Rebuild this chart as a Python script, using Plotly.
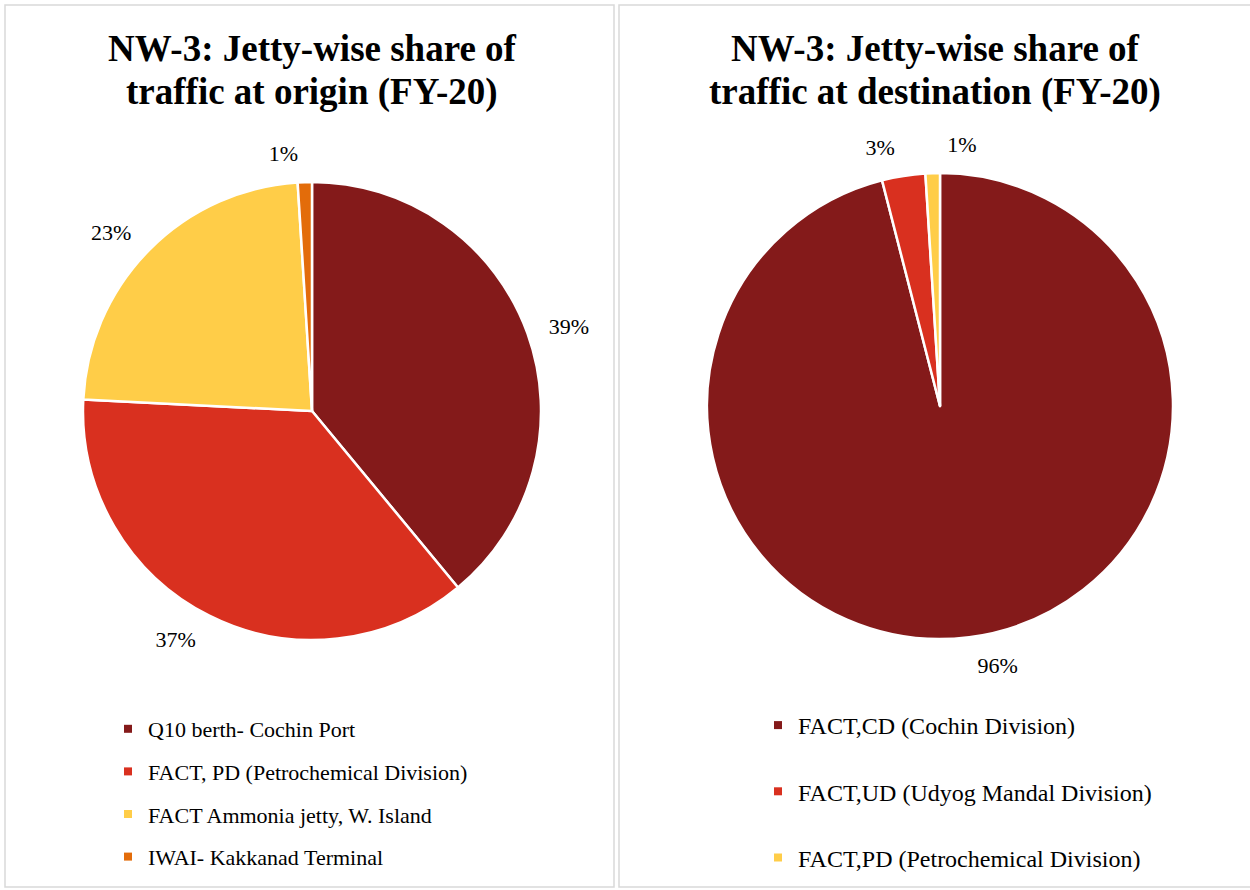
import plotly.graph_objects as go

W, H = 1250, 890

origin_labels = ["Q10 berth- Cochin Port", "FACT, PD (Petrochemical Division)",
                 "FACT Ammonia jetty, W. Island", "IWAI- Kakkanad Terminal"]
origin_values = [39.0, 36.8, 23.2, 1.0]
origin_colors = ["#841A1A", "#D9301F", "#FFCD48", "#E36C0A"]

dest_labels = ["FACT,CD (Cochin Division)", "FACT,UD (Udyog Mandal Division)",
               "FACT,PD (Petrochemical Division)"]
dest_values = [96.0, 3.0, 1.0]
dest_colors = ["#841A1A", "#D9301F", "#FFCD48"]

title_left = ["NW-3: Jetty-wise share of", "traffic at origin (FY-20)"]
title_right = ["NW-3: Jetty-wise share of", "traffic at destination (FY-20)"]

FONT = "Liberation Serif"
CLEAR = "rgba(0,0,0,0)"
LABEL_GAP = 16  # data labels sit a little outside the pie, as in the original


def px_x(v):
    return v / W


def px_y(v):
    return 1 - v / H


def dom(x0, x1, y0, y1, pad=0):
    return dict(x=[px_x(x0 - pad), px_x(x1 + pad)], y=[px_y(y1 + pad), px_y(y0 - pad)])


LEFT_BOX = (83, 541, 182, 640)
RIGHT_BOX = (707, 1173, 173, 639)

fig = go.Figure()

base = dict(sort=False, direction="clockwise", showlegend=False)
label_font = dict(family=FONT, size=22, color="#000000")
edge = dict(color="#FFFFFF", width=2.5)

# visible pies
fig.add_trace(go.Pie(labels=origin_labels, values=origin_values, rotation=0,
                     marker=dict(colors=origin_colors, line=edge),
                     textinfo="none", hoverinfo="label+percent",
                     domain=dom(*LEFT_BOX), **base))
fig.add_trace(go.Pie(labels=dest_labels, values=dest_values, rotation=0,
                     marker=dict(colors=dest_colors, line=edge),
                     textinfo="none", hoverinfo="label+percent",
                     domain=dom(*RIGHT_BOX), **base))


# percentage labels (transparent label rings slightly larger than the pies)
def label_ring(labels, values, templates, box, rotation=0):
    return go.Pie(labels=labels, values=values, rotation=rotation,
                  marker=dict(colors=[CLEAR] * len(values), line=dict(width=0)),
                  texttemplate=templates, textposition="outside",
                  textfont=label_font, hoverinfo="skip",
                  domain=dom(*box, pad=LABEL_GAP), **base)


fig.add_trace(label_ring(origin_labels, origin_values,
                         ["%{percent:.0%}"] * len(origin_values), LEFT_BOX))
fig.add_trace(label_ring(dest_labels, dest_values,
                         ["%{percent:.0%}"] * (len(dest_values) - 1) + [""], RIGHT_BOX))
# smallest destination slice labelled separately (placed just right of 12 o'clock,
# as in the original) so it is not stacked above its neighbour's label
fig.add_trace(label_ring(["rest", dest_labels[-1]],
                         [sum(dest_values[:-1]), dest_values[-1]],
                         ["", "%{percent:.0%}"], RIGHT_BOX, rotation=2))

# legend entries (square markers) built from the label lists
for i, (lab, col) in enumerate(zip(origin_labels, origin_colors)):
    fig.add_trace(go.Scatter(x=[None], y=[None], mode="markers", name=lab,
                             marker=dict(symbol="square", size=8, color=col),
                             legendgroup=f"o{i}", legend="legend", hoverinfo="skip"))
for i, (lab, col) in enumerate(zip(dest_labels, dest_colors)):
    fig.add_trace(go.Scatter(x=[None], y=[None], mode="markers", name=lab,
                             marker=dict(symbol="square", size=8, color=col),
                             legendgroup=f"d{i}", legend="legend2", hoverinfo="skip"))

annotations = []
for lines, cx in ((title_left, 312), (title_right, 935)):
    for k, txt in enumerate(lines):
        annotations.append(dict(
            text="<b>" + txt + "</b>", x=px_x(cx), y=px_y(48 + 44 * k),
            xref="paper", yref="paper", xanchor="center", yanchor="middle",
            showarrow=False, font=dict(family=FONT, size=37, color="#000000")))

fig.update_layout(
    width=W, height=H,
    margin=dict(l=0, r=0, t=0, b=0),
    paper_bgcolor="#FFFFFF", plot_bgcolor="#FFFFFF",
    font=dict(family=FONT, color="#000000"),
    xaxis=dict(visible=False), yaxis=dict(visible=False),
    legend=dict(x=px_x(108), y=px_y(708), xanchor="left", yanchor="top",
                font=dict(family=FONT, size=22, color="#000000"),
                tracegroupgap=11, bgcolor=CLEAR),
    legend2=dict(x=px_x(758), y=px_y(703), xanchor="left", yanchor="top",
                 font=dict(family=FONT, size=24, color="#000000"),
                 tracegroupgap=32, bgcolor=CLEAR),
    shapes=[
        dict(type="rect", xref="paper", yref="paper",
             x0=px_x(5), x1=px_x(614), y0=px_y(887), y1=px_y(5),
             line=dict(color="#D9D9D9", width=1.5)),
        dict(type="rect", xref="paper", yref="paper",
             x0=px_x(619), x1=px_x(1254), y0=px_y(887), y1=px_y(5),
             line=dict(color="#D9D9D9", width=1.5)),
    ],
    annotations=annotations,
)

fig.write_html("out.html")
